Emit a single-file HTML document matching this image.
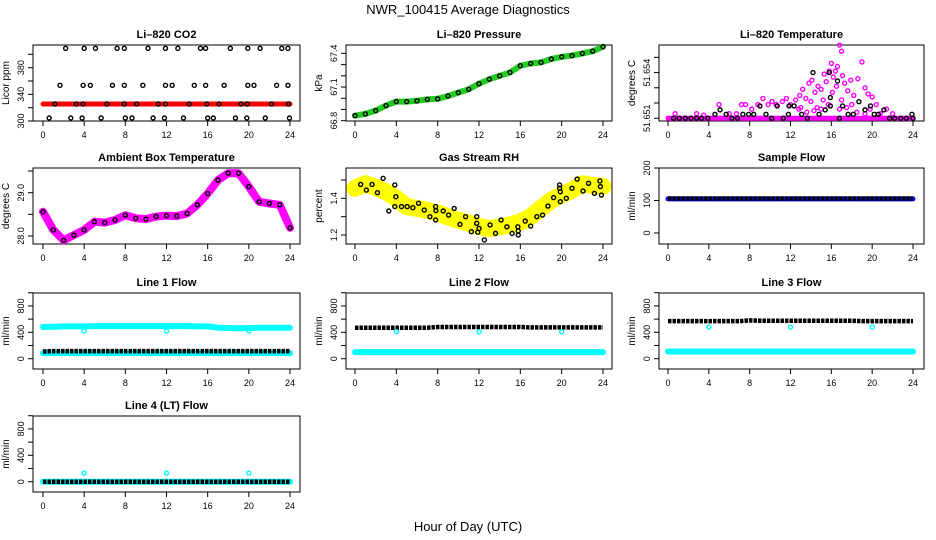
<!DOCTYPE html>
<html><head><meta charset="utf-8"><style>
html,body{margin:0;padding:0;background:#fff;}
svg{display:block;font-family:"Liberation Sans",Arial,sans-serif;}
</style></head><body>
<svg id="c" width="936" height="540" viewBox="0 0 936 540">
<text x="468" y="14" text-anchor="middle" font-size="13">NWR_100415  Average Diagnostics</text>
<text x="468" y="531" text-anchor="middle" font-size="13">Hour of Day (UTC)</text>
</svg>
<script>
const xTicks=[0,4,8,12,16,20,24];
const hours=[0,1,2,3,4,5,6,7,8,9,10,11,12,13,14,15,16,17,18,19,20,21,22,23,24];
// CO2
const co2BandVals=[325.5,325.5,325.5,325.5,325.5,325.5,325.5,325.5,325.5,325.5,325.5,325.5,325.5,325.5,325.5,325.5,325.5,325.5,325.5,325.5,325.5,325.5,325.5,325.5,325.5];
const co2PtsH=[2.2,4,5.1,7.2,7.9,10.2,11.9,13.1,15.3,15.8,18.2,19.9,21.1,23.2,23.8,1.65,3.9,4.6,6.75,7.9,9.7,11.9,12.55,14.7,15.8,17.6,19.9,20.5,22.7,23.8,1.15,3.25,3.9,6.2,7.9,9.1,11.2,11.9,14.2,15.9,17.1,19.25,19.85,22.2,23.85,0.6,2.7,3.8,5.65,8,8.65,10.7,11.8,13.65,16,16.55,18.7,19.8,21.6,23.95];
const co2PtsV=[409,409,409,409,409,409,409,409,409,409,409,409,409,409,409,353.5,353.5,353.5,353.5,353.5,353.5,353.5,353.5,353.5,353.5,353.5,353.5,353.5,353.5,353.5,325.5,325.5,325.5,325.5,325.5,325.5,325.5,325.5,325.5,325.5,325.5,325.5,325.5,325.5,325.5,304.5,304.5,304.5,304.5,304.5,304.5,304.5,304.5,304.5,304.5,304.5,304.5,304.5,304.5,304.5];
// Pressure
const pressVals=[66.845,66.86,66.89,66.935,66.97,66.97,66.977,66.99,66.995,67.02,67.05,67.08,67.13,67.17,67.2,67.23,67.29,67.31,67.32,67.35,67.37,67.38,67.4,67.42,67.46];
// Li-820 temperature
const tempBandVals=[51.651,51.651,51.651,51.651,51.651,51.651,51.651,51.651,51.651,51.651,51.651,51.651,51.651,51.651,51.651,51.651,51.651,51.651,51.651,51.651,51.651,51.651,51.651,51.651,51.651];
const tempMagH=[0.7,2.8,3.5,5.0,6.0,6.7,7.2,7.6,8.2,8.8,9.3,9.8,10.2,10.6,11.2,11.6,12.0,12.5,12.9,13.2,13.5,13.8,14.1,14.4,14.7,15.0,15.3,15.5,15.8,16.0,16.2,16.4,16.6,16.8,17.0,17.1,17.3,17.6,17.9,18.2,18.6,19.0,19.3,19.6,20.0,20.4,20.8,21.4,22.0,14.0,15.2,16.1,17.0,18.0,16.5,13.0,19.8,15.7,14.6,12.8,13.6,14.3,15.0,16.8,17.5,18.5,19.3];
const tempMagV=[51.6513,51.6513,51.6512,51.6519,51.6513,51.6513,51.6519,51.6519,51.6516,51.6519,51.6523,51.6519,51.6521,51.6519,51.6521,51.6523,51.6519,51.6522,51.6525,51.6529,51.6523,51.6533,51.6535,51.6527,51.6531,51.6529,51.6539,51.6534,51.6541,51.6546,51.6537,51.6541,51.6544,51.6558,51.6554,51.6538,51.6533,51.6528,51.6535,51.6525,51.6536,51.6547,51.653,51.6526,51.6524,51.6519,51.6513,51.6516,51.6513,51.6521,51.6522,51.6527,51.6522,51.6519,51.6531,51.6517,51.6516,51.6519,51.6517,51.6516,51.6514,51.6515,51.6516,51.6516,51.6517,51.6514,51.6513];
const tempBlkH=[0.55,1.1,1.7,2.25,2.8,3.3,3.9,4.6,5.1,5.7,6.25,6.8,7.33,7.9,8.4,9.0,9.6,10.15,10.7,11.3,11.8,11.86,12.35,13.1,13.65,14.2,14.8,15.4,15.8,15.9,15.9,16.6,16.8,17.1,17.65,18.15,18.7,19.3,19.84,20.2,20.6,21.15,21.7,22.2,22.8,23.35,23.9,24.0];
const tempBlkV=[51.651,51.651,51.651,51.651,51.651,51.651,51.651,51.65126,51.65155,51.65126,51.651,51.651,51.65126,51.65126,51.65126,51.65181,51.65126,51.651,51.65181,51.651,51.65126,51.65181,51.65181,51.65126,51.651,51.654,51.65126,51.65155,51.654,51.65236,51.65181,51.65345,51.651,51.65181,51.65126,51.65126,51.65209,51.65155,51.65181,51.65126,51.65126,51.65155,51.651,51.651,51.651,51.651,51.65126,51.651];
// Ambient
const ambVals=[28.56,28.14,27.9,28.02,28.14,28.33,28.31,28.37,28.48,28.41,28.39,28.45,28.47,28.46,28.52,28.72,28.98,29.29,29.45,29.45,29.14,28.79,28.75,28.72,28.19];
// RH
const rhVals=[1.455,1.48,1.46,1.435,1.4,1.355,1.345,1.335,1.32,1.3,1.28,1.265,1.245,1.235,1.245,1.255,1.27,1.3,1.345,1.39,1.42,1.445,1.48,1.47,1.465];
const rhBlkH=[0.55,1.1,1.65,2.17,2.72,3.27,3.85,3.95,3.85,4.5,5.05,5.6,6.15,6.7,7.25,7.8,7.83,7.8,8.54,9.06,9.6,10.16,10.7,11.26,11.78,11.78,11.88,12,12.52,13.07,13.6,14.14,14.7,15.2,15.76,15.8,15.8,16.47,17,17.6,18.15,18.67,19.22,19.8,19.8,19.87,19.87,20.45,21,21.5,22.07,22.6,23.17,23.7,23.75,23.85];
const rhBlkV=[1.476,1.445,1.476,1.431,1.509,1.331,1.473,1.409,1.355,1.355,1.355,1.349,1.373,1.336,1.3,1.355,1.333,1.282,1.331,1.309,1.345,1.258,1.3,1.218,1.3,1.264,1.215,1.236,1.173,1.255,1.209,1.282,1.245,1.209,1.245,1.222,1.2,1.276,1.249,1.3,1.309,1.358,1.404,1.455,1.473,1.436,1.382,1.4,1.455,1.505,1.44,1.482,1.427,1.495,1.464,1.418];
// Flows
const sampleBlue=[105,105,105,105,105,105,105,105,105,105,105,105,105,105,105,105,105,105,105,105,105,105,105,105,105];
const sampleBlack=[106,106,106,106,106,106,106,106,106,106,106,106,106,106,106,106,106,106,106,106,106,106,106,106,106];
const l1CyanHi=[480,485,490,490,490,495,495,495,495,495,495,495,495,495,495,490,490,470,465,460,465,470,470,470,470];
const l1CyanLo=[85,85,85,85,85,85,85,85,85,85,85,85,85,85,85,85,85,85,85,85,85,85,85,85,85];
const l1Black=[110,115,115,115,115,115,115,115,115,115,115,115,115,115,115,115,115,115,115,115,115,115,115,115,115];
const l2Black=[470,470,470,470,470,470,470,470,480,480,480,480,480,480,480,480,480,475,475,475,475,475,475,475,475];
const l2Cyan=[100,100,100,100,100,100,100,100,100,100,100,100,100,100,100,100,100,100,100,100,100,100,100,100,100];
const l3Black=[570,570,570,570,570,570,570,570,580,575,575,575,575,575,575,575,575,575,575,570,570,570,570,570,570];
const l3Cyan=[110,110,110,110,110,110,110,110,110,110,110,110,110,110,110,110,110,110,110,110,110,110,110,110,110];
const l4Black=[0,0,0,0,0,0,0,0,0,0,0,0,0,0,0,0,0,0,0,0,0,0,0,0,0];
const l4Cyan=[0,0,0,0,0,0,0,0,0,0,0,0,0,0,0,0,0,0,0,0,0,0,0,0,0];
const outH=[4,12,20];
const l1Out=[420,420,420];
const l2Out=[410,410,410];
const l3Out=[480,480,480];
const l4Out=[130,130,130];

const NS='http://www.w3.org/2000/svg';
const svg=document.getElementById('c');
function mk(tag,attrs,parent){const e=document.createElementNS(NS,tag);for(const k in attrs)e.setAttribute(k,attrs[k]);(parent||svg).appendChild(e);return e;}

function panel(o){
  const g=mk('g',{});
  
  
  const L=o.x0,R=o.x1,T=o.y0,B=o.y0+76;
  const xs=h=>o.z0+(o.z24-o.z0)*h/24;
  const ys=v=>B-(v-o.d0)/(o.d1-o.d0)*(B-T);
  o.xs=xs;o.ys=ys;o.g=g;
  const t=mk('text',{x:(L+R)/2,y:T-7,'text-anchor':'middle','font-size':'11','font-weight':'bold'},g);t.textContent=o.title;
  
  
  const box=mk('rect',{x:L,y:T,width:R-L,height:B-T,fill:'none',stroke:'#000','stroke-width':1},g);
  
  
  xTicks.forEach(v=>{const x=xs(v);mk('line',{x1:x,x2:x,y1:B,y2:B+5,stroke:'#000'},g);
    const tx=mk('text',{x:x,y:B+17,'text-anchor':'middle','font-size':'9'},g);tx.textContent=v;
    
    });
  o.yt.forEach(v=>{const y=ys(v);mk('line',{x1:L-5,x2:L,y1:y,y2:y,stroke:'#000'},g);});
  o.yl.forEach(v=>{const y=ys(v);const tx=mk('text',{x:L-9,y:y,'text-anchor':'middle','font-size':'9',transform:`rotate(-90 ${L-9} ${y})`},g);tx.textContent=v;
    
    });
  const yl=mk('text',{x:L-24,y:(T+B)/2,'text-anchor':'middle','font-size':'10',transform:`rotate(-90 ${L-24} ${(T+B)/2})`},g);yl.textContent=o.ylab;
  
  
  return o;
}
function band(o,vals,color,w,name){
  const d=vals.map((v,i)=>(i?'L':'M')+o.xs(hours[i]).toFixed(1)+','+o.ys(v).toFixed(1)).join('');
  const p=mk('path',{d:d,fill:'none',stroke:color,'stroke-width':w,'stroke-linejoin':'round','stroke-linecap':'round'},o.g);
  
  
}
function chain(o,vals,name){
  const d=vals.map((v,i)=>(i?'L':'M')+o.xs(hours[i]).toFixed(1)+','+o.ys(v).toFixed(1)).join('');
  const p=mk('path',{d:d,fill:'none',stroke:'#000','stroke-width':4.5,'stroke-dasharray':'3.5 1'},o.g);
  
  
}
function pts(o,hs,vs,color,name,r){
  vs.forEach((v,i)=>{const c=mk('circle',{cx:o.xs(hs[i]),cy:o.ys(v),r:r||2,fill:'none',stroke:color,'stroke-width':1.4},o.g);
    
    });
}
const C1={x0:33,x1:300,z0:43,z24:290},C2={x0:346,x1:612,z0:355,z24:603},C3={x0:659,x1:924,z0:668,z24:913};
const R1=45,R2=168,R3=293,R4=416;

let p=panel(Object.assign({name:'co2-panel',title:'Li\u2013820 CO2',ylab:'Licor ppm',y0:R1,d0:300,d1:414,yt:[300,320,340,360,380,400],yl:[300,340,380]},C1));
band(p,co2BandVals,'#f00',5,'co2-band');pts(p,co2PtsH,co2PtsV,'#000','co2-point');

p=panel(Object.assign({name:'pressure-panel',title:'Li\u2013820 Pressure',ylab:'kPa',y0:R1,d0:66.797,d1:67.475,yt:[66.8,66.9,67.0,67.1,67.2,67.3,67.4],yl:['66.8','67.1','67.4']},C2));
band(p,pressVals,'#2c2',6,'pressure-band');pts(p,hours,pressVals,'#000','pressure-point');

p=panel(Object.assign({name:'temperature-panel',title:'Li\u2013820 Temperature',ylab:'degrees C',y0:R1,d0:51.65082,d1:51.65581,yt:[51.651,51.652,51.653,51.654,51.655],yl:['51.651','51.654']},C3));
band(p,tempBandVals,'#f0f',5,'temperature-band');pts(p,tempMagH,tempMagV,'#f0f','temperature-magenta-point');pts(p,tempBlkH,tempBlkV,'#000','temperature-point');

p=panel(Object.assign({name:'ambient-panel',title:'Ambient Box Temperature',ylab:'degrees C',y0:R2,d0:27.815,d1:29.57,yt:[28.0,28.5,29.0,29.5],yl:['28.0','29.0']},C1));
band(p,ambVals,'#f0f',8,'ambient-band');pts(p,hours,ambVals,'#000','ambient-point');

p=panel(Object.assign({name:'rh-panel',title:'Gas Stream RH',ylab:'percent',y0:R2,d0:1.151,d1:1.5655,yt:[1.2,1.3,1.4,1.5],yl:['1.2','1.4']},C2));
band(p,rhVals,'#ff0',17,'rh-band');pts(p,rhBlkH,rhBlkV,'#000','rh-point');

p=panel(Object.assign({name:'sample-flow-panel',title:'Sample Flow',ylab:'ml/min',y0:R2,d0:-34,d1:200,yt:[0,100,200],yl:[0,100,200]},C3));
band(p,sampleBlue,'#00f',5,'sample-blue-band');chain(p,sampleBlack,'sample-black-band');

const fl={yt:[0,200,400,600,800,1000],yl:[0,400,800],d0:-156,d1:996,ylab:'ml/min'};
p=panel(Object.assign({name:'line1-panel',title:'Line 1 Flow',y0:R3},fl,C1));
band(p,l1CyanHi,'#0ff',6,'line1-cyan-high');band(p,l1CyanLo,'#0ff',6,'line1-cyan-low');chain(p,l1Black,'line1-black');pts(p,outH,l1Out,'#0ff','line1-outlier');

p=panel(Object.assign({name:'line2-panel',title:'Line 2 Flow',y0:R3},fl,C2));
band(p,l2Cyan,'#0ff',6,'line2-cyan');chain(p,l2Black,'line2-black');pts(p,outH,l2Out,'#0ff','line2-outlier');

p=panel(Object.assign({name:'line3-panel',title:'Line 3 Flow',y0:R3},fl,C3));
band(p,l3Cyan,'#0ff',6,'line3-cyan');chain(p,l3Black,'line3-black');pts(p,outH,l3Out,'#0ff','line3-outlier');

p=panel(Object.assign({name:'line4-panel',title:'Line 4 (LT) Flow',y0:R4},fl,C1));
band(p,l4Cyan,'#0ff',6,'line4-cyan');chain(p,l4Black,'line4-black');pts(p,outH,l4Out,'#0ff','line4-outlier');
</script>
</body></html>
